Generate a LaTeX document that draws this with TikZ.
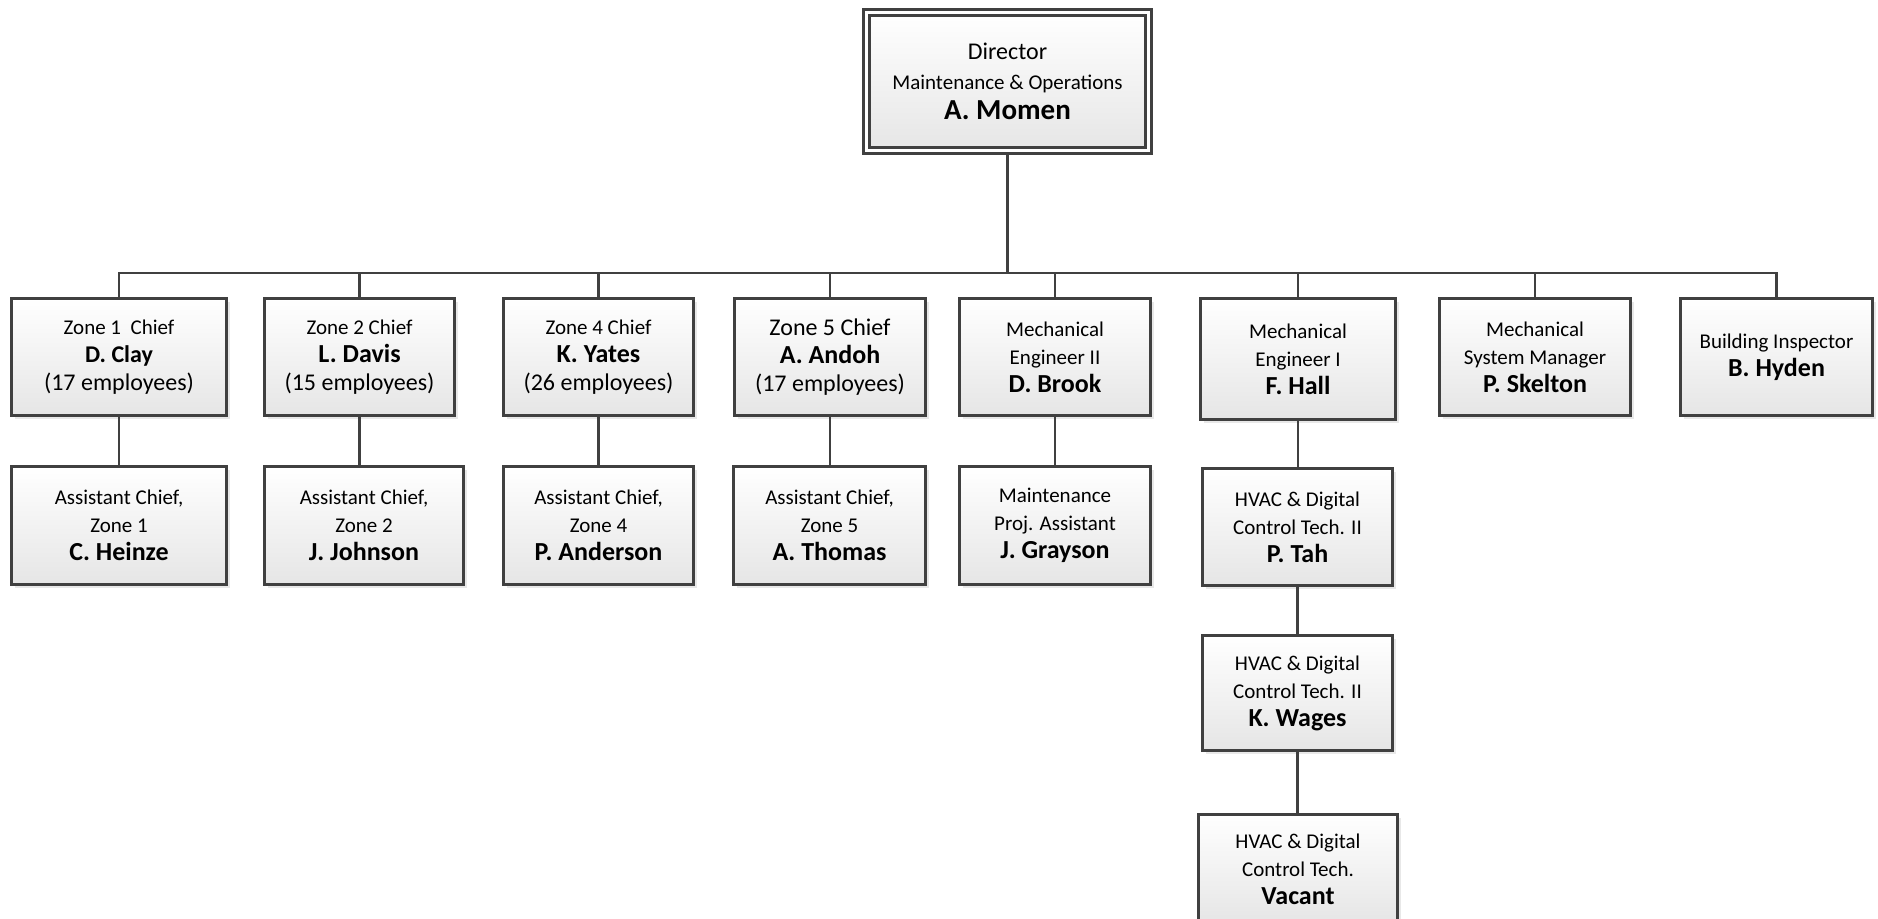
\documentclass[tikz,border=0pt]{standalone}
\usepackage{fontspec}
\setmainfont{Carlito}
\usetikzlibrary{shadows}

\newcommand{\who}[1]{{\fontsize{13}{14}\selectfont\bfseries #1}}
\newcommand{\staff}[1]{{\fontsize{12}{14}\selectfont #1}}

\begin{document}
\begin{tikzpicture}[x=0.5pt,y=-0.5pt,
  post/.style={draw=black!75,line width=1.6pt,rectangle,inner sep=0pt,align=center,
    top color=white,bottom color=black!10,
    drop shadow={shadow xshift=1.5pt,shadow yshift=-1.5pt,opacity=0.18},
    font=\fontsize{10.5}{14}\selectfont},
  level1/.style={post,minimum height=58.5pt},
  level2/.style={post,minimum height=59pt},
  link/.style={draw=black!75,line width=1.3pt}]

  \useasboundingbox (0,0) rectangle (1878,918);
  \clip (0,0) rectangle (1878,918);

  % top
  \node [post,double=white,double distance=1.5pt,line width=1.5pt,minimum width=141pt,minimum height=69pt,font=\fontsize{10.5}{15}\selectfont] (dir) at (1007.5,81.5)
    {{\fontsize{12}{15}\selectfont Director}\\ Maintenance \& Operations\\ {\fontsize{14.5}{15}\selectfont\bfseries A. Momen}};

  % first row
  \node [level1,minimum width=107.5pt] (zone1) at (119,357)   {Zone 1\ \ Chief\\ {\fontsize{12}{14}\selectfont\bfseries D. Clay}\\ \staff{(17 employees)}};
  \node [level1,minimum width=95pt]    (zone2) at (359.5,357) {Zone 2 Chief\\ \who{L. Davis}\\ \staff{(15 employees)}};
  \node [level1,minimum width=95pt]    (zone4) at (598.5,357) {Zone 4 Chief\\ \who{K. Yates}\\ \staff{(26 employees)}};
  \node [level1,minimum width=95.5pt]  (zone5) at (830,357)   {\staff{Zone 5 Chief}\\ \who{A. Andoh}\\ \staff{(17 employees)}};
  \node [level1,minimum width=95.5pt]  (mech2) at (1055,357)  {Mechanical\\ Engineer II\\ \who{D. Brook}};
  \node [post,minimum width=97.5pt,minimum height=60.5pt] (mech1) at (1298,359) {Mechanical\\ Engineer I\\ \who{F. Hall}};
  \node [level1,minimum width=95.5pt]  (msm)   at (1535,357)  {Mechanical\\ System Manager\\ \who{P. Skelton}};
  \node [level1,minimum width=96pt]    (insp)  at (1776.5,357) {Building Inspector\\ \who{B. Hyden}};

  % second row
  \node [level2,minimum width=107.5pt] (asst1) at (119,525.5)   {Assistant Chief,\\ Zone 1\\ \who{C. Heinze}};
  \node [level2,minimum width=99.5pt]  (asst2) at (364,525.5)   {Assistant Chief,\\ Zone 2\\ \who{J. Johnson}};
  \node [level2,minimum width=95pt]    (asst4) at (598.5,525.5) {Assistant Chief,\\ Zone 4\\ \who{P. Anderson}};
  \node [level2,minimum width=96pt]    (asst5) at (829.5,525.5) {Assistant Chief,\\ Zone 5\\ \who{A. Thomas}};
  \node [level2,minimum width=95.5pt]  (proj)  at (1055,525.5)  {Maintenance\\ Proj. Assistant\\ \who{J. Grayson}};

  % HVAC chain
  \node [post,minimum width=95pt,minimum height=58.5pt]   (tah)    at (1297.5,527) {HVAC \& Digital\\ Control Tech. II\\ \who{P. Tah}};
  \node [post,minimum width=95pt,minimum height=57.5pt]   (wages)  at (1297.5,693) {HVAC \& Digital\\ Control Tech. II\\ \who{K. Wages}};
  \node [post,minimum width=99.5pt,minimum height=54.5pt] (vacant) at (1298,869)   {HVAC \& Digital\\ Control Tech.\\ \who{Vacant}};

  \coordinate (bus) at (0,273);

  \foreach \n in {zone1,zone2,zone4,zone5,mech2,mech1,msm,insp}
    \path [link] (dir.south) |- (bus -| \n.north) -- (\n.north);

  \foreach \a/\b in {zone1/asst1,zone2/asst2,zone4/asst4,zone5/asst5,mech2/proj,mech1/tah,tah/wages,wages/vacant}
    \path [link] (\a.south) -- (\a.south |- \b.north);
\end{tikzpicture}
\end{document}
